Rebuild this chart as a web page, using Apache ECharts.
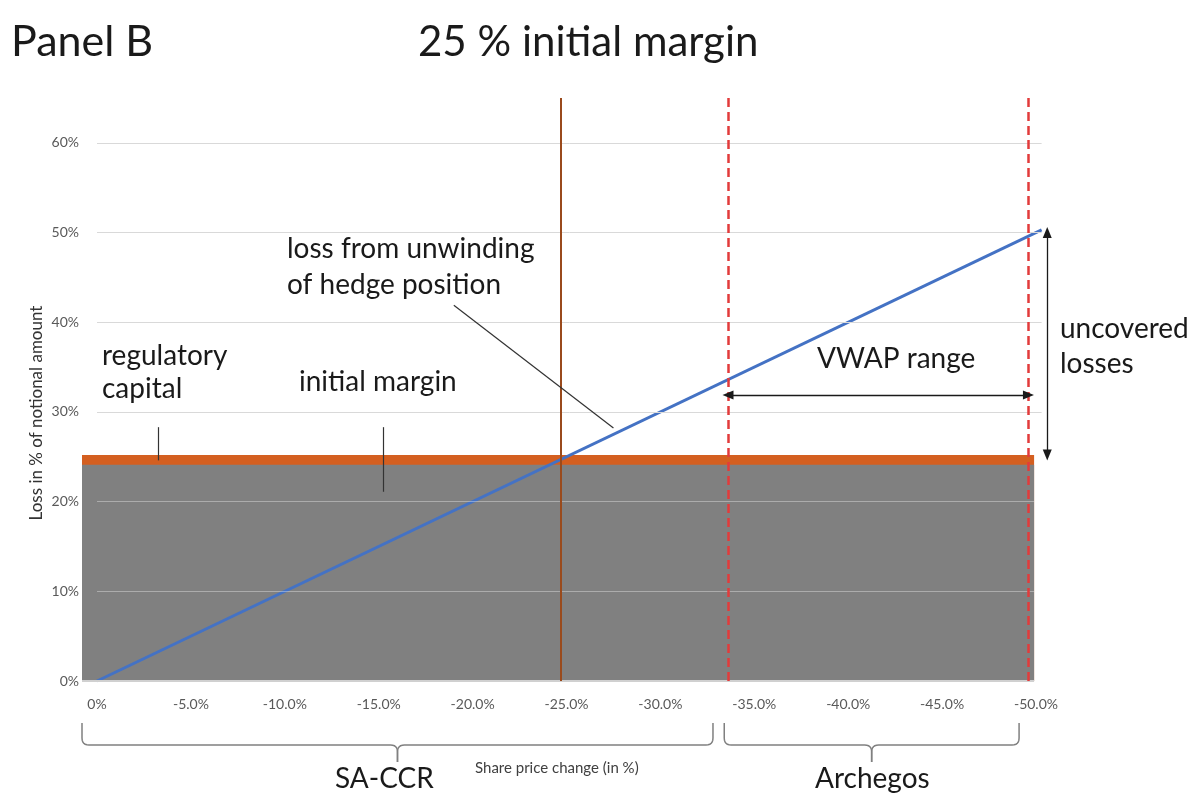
<!DOCTYPE html>
<html>
<head>
<meta charset="utf-8">
<script src="https://cdn.jsdelivr.net/npm/echarts@6/dist/echarts.min.js"></script>
<style>
html, body { margin: 0; padding: 0; background: #fff; }
#chart { width: 1193px; height: 793px; }
</style>
</head>
<body>
<div id="chart"></div>
<script>
// x = share price change (%), y = loss in % of notional amount
const xTicks = [0, -5, -10, -15, -20, -25, -30, -35, -40, -45, -50];
const yTicks = [0, 10, 20, 30, 40, 50, 60];
const hedgeX = [0, -50.3];
const hedgeY = [0, 50.3];
const areaX = [0.8, -49.9];
const initialMargin = [24.1, 24.1];
const regCapitalTop = [25.2, 25.2];
const saccrLimit = -24.7;
const vwapRange = [-33.6, -49.6];
const vwapLevel = 31.9;
const uncovered = [50, 25.2];
const saccrBrace = [0.8, -32.8];
const archegosBrace = [-33.4, -49.1];

const FONT = 'Lato';
const gridColor = '#d9d9d9';
const chart = echarts.init(document.getElementById('chart'));

function pairs(xs, ys) {
  return xs.map((x, i) => [x, ys[i]]);
}

// horizontal grid lines, lighter where they cross the grey area
const gridLines = yTicks.filter(v => v > 0).map(v => {
  const inArea = v < initialMargin[0];
  return [
    { coord: [0, v], lineStyle: { color: inArea ? 'rgba(255,255,255,0.35)' : gridColor } },
    { coord: [inArea ? areaX[1] : hedgeX[1], v] }
  ];
});
gridLines.push([
  { coord: [areaX[0], 0], lineStyle: { color: '#d0d0d0', width: 2 } },
  { coord: [areaX[1], 0] }
]);

const noLabel = { show: false };

chart.setOption({
  animation: false,
  grid: { left: 82, right: 142, top: 98, bottom: 112 },
  xAxis: {
    type: 'value',
    min: -50.8,
    max: 0.8,
    inverse: true,
    axisLine: { show: false },
    axisTick: { show: false },
    splitLine: { show: false },
    axisLabel: {
      customValues: xTicks,
      formatter: v => (v === 0 ? '0%' : v.toFixed(1) + '%'),
      color: '#595959',
      fontFamily: FONT,
      fontSize: 14,
      margin: 16
    }
  },
  yAxis: {
    type: 'value',
    min: 0,
    max: 65,
    interval: 10,
    axisLine: { show: false },
    axisTick: { show: false },
    splitLine: { show: false },
    axisLabel: {
      formatter: '{value}%',
      showMaxLabel: false,
      color: '#595959',
      fontFamily: FONT,
      fontSize: 14,
      margin: 3
    }
  },
  series: [
    {
      name: 'regulatory capital',
      type: 'line',
      data: pairs(areaX, regCapitalTop),
      symbol: 'none',
      lineStyle: { width: 0 },
      areaStyle: { color: '#D45F20', opacity: 1 },
      silent: true
    },
    {
      name: 'initial margin',
      type: 'line',
      data: pairs(areaX, initialMargin),
      symbol: 'none',
      lineStyle: { width: 0 },
      areaStyle: { color: '#808080', opacity: 1 },
      silent: true
    },
    {
      name: 'grid',
      type: 'line',
      data: [],
      silent: true,
      markLine: {
        silent: true,
        symbol: 'none',
        label: noLabel,
        lineStyle: { color: gridColor, width: 1, type: 'solid' },
        data: gridLines
      }
    },
    {
      name: 'limits',
      type: 'line',
      data: [],
      silent: true,
      markLine: {
        silent: true,
        symbol: 'none',
        label: noLabel,
        data: [
          { xAxis: saccrLimit, lineStyle: { color: '#9A4A1C', width: 2, type: 'solid' } },
          { xAxis: vwapRange[0], lineStyle: { color: '#E23B3B', width: 2.5, type: [9, 5] } },
          { xAxis: vwapRange[1], lineStyle: { color: '#E23B3B', width: 2.5, type: [9, 5] } }
        ]
      }
    },
    {
      name: 'pointers',
      type: 'line',
      data: [],
      silent: true,
      markLine: {
        silent: true,
        symbol: 'none',
        label: noLabel,
        lineStyle: { color: '#333', width: 1.2, type: 'solid' },
        data: [
          [{ coord: [-19.0, 41.9] }, { coord: [-27.5, 28.2] }],
          [{ coord: [-3.25, 28.3] }, { coord: [-3.25, 24.6] }],
          [{ coord: [-15.25, 28.3] }, { coord: [-15.25, 21.1] }]
        ]
      }
    },
    {
      name: 'hedge loss',
      type: 'line',
      data: pairs(hedgeX, hedgeY),
      symbol: 'none',
      lineStyle: { color: '#4472C4', width: 3 },
      silent: true
    },
    {
      name: 'arrows',
      type: 'line',
      data: [],
      silent: true,
      markLine: {
        silent: true,
        symbol: ['triangle', 'triangle'],
        symbolSize: [9, 11],
        label: noLabel,
        lineStyle: { color: '#1a1a1a', width: 1.3, type: 'solid' },
        data: [
          [{ coord: [vwapRange[0], vwapLevel] }, { coord: [vwapRange[1], vwapLevel] }],
          [{ coord: [-50.6, uncovered[0]] }, { coord: [-50.6, uncovered[1]] }]
        ]
      }
    }
  ]
});

function px(x) {
  return chart.convertToPixel({ gridIndex: 0 }, [x, 0])[0];
}

// quadratic curve sampled into points
function quad(p0, c, p1, out) {
  for (let i = 1; i <= 6; i++) {
    const t = i / 6, u = 1 - t;
    out.push([u * u * p0[0] + 2 * u * t * c[0] + t * t * p1[0],
              u * u * p0[1] + 2 * u * t * c[1] + t * t * p1[1]]);
  }
}

// one half of a curly brace, from the outer end to the centre tip
function braceHalf(xe, xc) {
  const top = 723, mid = 745, tip = 762, r = 7;
  const s = xc > xe ? 1 : -1;
  const pts = [[xe, top], [xe, mid - r]];
  quad([xe, mid - r], [xe, mid], [xe + s * r, mid], pts);
  pts.push([xc - s * r, mid]);
  quad([xc - s * r, mid], [xc, mid], [xc, mid + r], pts);
  pts.push([xc, tip]);
  return pts;
}

function brace(a, b) {
  const xa = px(a), xb = px(b), xc = (xa + xb) / 2;
  const style = { stroke: '#808080', lineWidth: 1.5, fill: null };
  return [
    { type: 'polyline', silent: true, shape: { points: braceHalf(xa, xc) }, style: style },
    { type: 'polyline', silent: true, shape: { points: braceHalf(xb, xc) }, style: style }
  ];
}

function label(text, x, baseline, size, color) {
  return {
    type: 'text',
    silent: true,
    style: {
      text: text,
      x: x,
      y: baseline - size * 0.3,
      font: size + 'px ' + FONT,
      fill: color || '#1a1a1a',
      textAlign: 'left',
      textVerticalAlign: 'middle'
    }
  };
}

chart.setOption({
  graphic: [
    label('Panel B', 11, 55, 43),
    label('25 % initial margin', 418, 55, 42),
    label('loss from unwinding', 287, 257, 28),
    label('of hedge position', 287, 293, 28),
    label('regulatory', 102, 364, 28),
    label('capital', 102, 397, 28),
    label('initial margin', 299, 390, 28),
    label('VWAP range', 817, 367, 28),
    label('uncovered', 1060, 337, 28),
    label('losses', 1060, 372, 28),
    label('SA-CCR', 335, 787, 28),
    label('Archegos', 815, 787, 28),
    label('Share price change (in %)', 475, 773, 15, '#404040'),
    {
      type: 'text',
      silent: true,
      x: 37,
      y: 413,
      rotation: Math.PI / 2,
      style: {
        text: 'Loss in % of notional amount',
        font: '17px ' + FONT,
        fill: '#333',
        textAlign: 'center',
        textVerticalAlign: 'middle'
      }
    }
  ].concat(brace(saccrBrace[0], saccrBrace[1]), brace(archegosBrace[0], archegosBrace[1]))
});
</script>
</body>
</html>
